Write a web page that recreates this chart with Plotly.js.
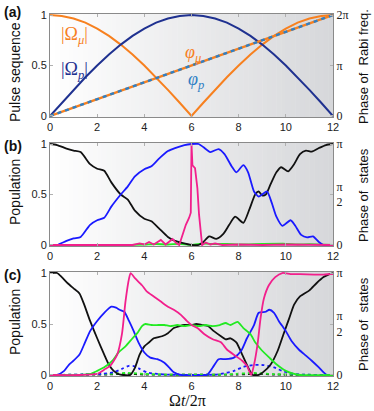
<!DOCTYPE html>
<html>
<head>
<meta charset="utf-8">
<script src="https://cdn.plot.ly/plotly-3.0.1.min.js"></script>
<style>
  html, body { margin: 0; padding: 0; background: #fff; }
  #plot { width: 374px; height: 411px; }
</style>
</head>
<body>
<div id="plot"></div>
<script>
// ---- panel (a): pulse amplitudes and phases ----
var tA = [0, 0.5, 1, 1.5, 2, 2.5, 3, 3.5, 4, 4.5, 5, 5.5, 6, 6.5, 7, 7.5, 8, 8.5, 9, 9.5, 10, 10.5, 11, 11.5, 12];
var omegaMu = [1, .991, .966, .924, .866, .793, .707, .609, .5, .383, .259, .131, 0, .131, .259, .383, .5, .609, .707, .793, .866, .924, .966, .991, 1];
var omegaP = [0, .131, .259, .383, .5, .609, .707, .793, .866, .924, .966, .991, 1, .991, .966, .924, .866, .793, .707, .609, .5, .383, .259, .131, 0];
var phaseT = [0, 12];
var phaseMu = [0, 2];   // in units of pi
var phaseP = [0, 2];

// ---- panel (b) ----
var bBlackT = [0, 0.3, 0.7, 1.0, 1.3, 1.7, 2.0, 2.3, 2.6, 3.0, 3.3, 3.6, 4.0, 4.3, 4.6, 5.0, 5.3, 5.6, 6.0, 6.3, 6.5, 6.75, 7.05, 7.35, 7.6, 7.85, 8.2, 8.45, 8.7, 8.85, 9.0, 9.15, 9.35, 9.6, 9.8, 10.1, 10.35, 10.6, 10.85, 11.1, 11.4, 11.7, 12];
var bBlack = [1, 0.99, 0.955, 0.935, 0.92, 0.8, 0.755, 0.735, 0.62, 0.5, 0.45, 0.34, 0.26, 0.235, 0.17, 0.08, 0.04, 0.02, 0, 0, 0.03, 0.085, 0.06, 0.11, 0.2, 0.28, 0.22, 0.35, 0.5, 0.53, 0.49, 0.5, 0.6, 0.72, 0.77, 0.73, 0.8, 0.9, 0.935, 0.925, 0.96, 0.99, 1];
var bBlueT = [0, 0.3, 0.7, 1.0, 1.3, 1.7, 2.0, 2.3, 2.6, 3.0, 3.3, 3.6, 4.0, 4.3, 4.6, 5.0, 5.3, 5.7, 6.0, 6.3, 6.5, 6.8, 7.15, 7.4, 7.7, 7.9, 8.2, 8.4, 8.65, 8.85, 9.0, 9.2, 9.4, 9.6, 9.85, 10.2, 10.4, 10.65, 10.9, 11.15, 11.4, 11.6, 12];
var bBlue = [0, 0, 0.04, 0.065, 0.08, 0.2, 0.245, 0.27, 0.38, 0.5, 0.58, 0.68, 0.75, 0.78, 0.85, 0.93, 0.96, 0.99, 1, 1, 0.97, 0.92, 0.95, 0.9, 0.78, 0.72, 0.79, 0.72, 0.53, 0.48, 0.5, 0.53, 0.42, 0.28, 0.19, 0.245, 0.19, 0.1, 0.075, 0.085, 0.03, 0, 0];
var bPhaseT = [0, 3.5, 3.8, 4.0, 4.2, 4.4, 4.7, 4.9, 5.2, 5.35, 5.48, 5.62, 5.76, 5.9, 5.97, 6.0, 6.04, 6.15, 6.25, 6.32, 6.4, 6.45, 6.6, 6.8, 7.0, 7.3, 8, 9, 10, 11, 12];
var bPhase = [0, 0, 0.015, 0.005, 0.03, 0.005, 0.05, 0.005, 0.06, 0.02, 0, 0.1, 0.2, 0.27, 0.32, 1.0, 0.79, 0.76, 0.56, 0.3, 0.075, 0, 0.025, 0.005, 0.015, 0, 0.005, 0, 0.005, 0, 0];
var bGreenT = [0, 3, 4, 4.5, 5, 5.5, 6, 6.5, 7, 7.5, 8, 9, 10, 10.5, 11, 12];
var bGreen = [0, 0, 0.005, 0.01, 0.005, 0.012, 0, 0.015, 0.008, 0.012, 0.005, 0.01, 0.012, 0.005, 0.008, 0];

// ---- panel (c) ----
var cBlackT = [0, 0.3, 0.5, 0.75, 1.0, 1.25, 1.45, 1.7, 2.0, 2.3, 2.5, 2.7, 2.9, 3.1, 3.4, 3.6, 3.8, 4.0, 4.2, 4.4, 4.75, 5.0, 5.25, 5.5, 5.7, 6.0, 6.2, 6.45, 6.7, 6.95, 7.25, 7.45, 7.65, 7.9, 8.15, 8.35, 8.5, 8.6, 8.85, 9.05, 9.35, 9.65, 9.9, 10.15, 10.35, 10.6, 11.0, 11.3, 11.6, 11.85, 12];
var cBlack = [1, 1, 0.96, 0.9, 0.85, 0.8, 0.69, 0.53, 0.36, 0.2, 0.1, 0.04, 0.01, 0, 0, 0.07, 0.2, 0.28, 0.32, 0.36, 0.38, 0.41, 0.46, 0.48, 0.49, 0.49, 0.5, 0.49, 0.48, 0.43, 0.38, 0.35, 0.36, 0.32, 0.2, 0.1, 0.03, 0, 0, 0.03, 0.1, 0.235, 0.4, 0.56, 0.69, 0.77, 0.83, 0.9, 0.96, 0.99, 1];
var cBlueT = [0, 0.3, 0.6, 0.8, 1.0, 1.25, 1.45, 1.7, 2.0, 2.3, 2.6, 2.8, 2.95, 3.15, 3.35, 3.55, 3.75, 4.0, 4.25, 4.55, 4.85, 5.05, 5.25, 5.55, 6.65, 6.9, 7.15, 7.45, 7.8, 8.1, 8.35, 8.65, 8.85, 9.15, 9.3, 9.5, 9.7, 10.0, 10.25, 10.55, 10.85, 11.1, 11.4, 11.6, 11.75, 12];
var cBlue = [0, 0, 0.04, 0.1, 0.14, 0.2, 0.3, 0.43, 0.53, 0.61, 0.67, 0.66, 0.64, 0.62, 0.53, 0.43, 0.32, 0.22, 0.17, 0.155, 0.12, 0.074, 0.026, 0, 0, 0.074, 0.155, 0.155, 0.17, 0.235, 0.36, 0.49, 0.61, 0.62, 0.64, 0.61, 0.53, 0.43, 0.33, 0.25, 0.19, 0.14, 0.074, 0.026, 0, 0];
var cPhaseT = [0, 1.3, 2.0, 2.35, 2.55, 2.85, 3.05, 3.2, 3.35, 3.42, 3.6, 3.9, 4.1, 4.4, 4.7, 5.0, 5.25, 5.55, 5.8, 6.0, 6.25, 6.55, 6.9, 7.25, 7.5, 7.85, 8.15, 8.35, 8.53, 8.65, 8.8, 8.93, 9.07, 9.28, 9.55, 9.85, 10.2, 10.6, 11.2, 11.6, 11.9, 12];
var cPhase = [0, 0, 0.01, 0.06, 0.09, 0.2, 0.4, 0.72, 0.945, 1.0, 0.95, 0.88, 0.82, 0.77, 0.72, 0.67, 0.64, 0.59, 0.53, 0.49, 0.46, 0.4, 0.35, 0.32, 0.25, 0.19, 0.14, 0.09, 0, 0.1, 0.3, 0.56, 0.75, 0.88, 0.96, 1.0, 0.99, 0.99, 0.985, 0.985, 0.99, 0.99];
var cGreenT = [0, 1.3, 1.7, 2.0, 2.3, 2.65, 2.9, 3.2, 3.5, 3.7, 3.9, 4.05, 4.3, 4.6, 4.85, 5.1, 5.4, 5.7, 6.0, 6.3, 6.6, 6.9, 7.2, 7.45, 7.65, 7.95, 8.2, 8.5, 8.7, 8.95, 9.3, 9.6, 10.0, 10.35, 10.6, 12];
var cGreen = [0, 0, 0.01, 0.04, 0.075, 0.14, 0.22, 0.28, 0.36, 0.41, 0.48, 0.5, 0.49, 0.49, 0.49, 0.48, 0.49, 0.48, 0.49, 0.48, 0.49, 0.48, 0.49, 0.51, 0.49, 0.52, 0.46, 0.4, 0.32, 0.25, 0.17, 0.105, 0.04, 0.01, 0, 0];
var cBlueDashT = [0, 1.5, 2.2, 2.7, 3.05, 3.35, 3.55, 3.8, 4.1, 4.55, 5.0, 7.0, 7.25, 7.8, 8.2, 8.6, 9.05, 9.5, 9.9, 10.35, 10.8, 12];
var cBlueDash = [0, 0.005, 0.012, 0.026, 0.06, 0.09, 0.088, 0.06, 0.026, 0.01, 0.003, 0.003, 0.01, 0.04, 0.08, 0.097, 0.097, 0.074, 0.035, 0.01, 0.003, 0];
var cGreenDashT = [0, 2.5, 3.3, 4, 5, 7.5, 8.6, 9.5, 12];
var cGreenDash = [0, 0.01, 0.02, 0.01, 0.003, 0.005, 0.02, 0.008, 0];
var cBlackDashT = [0, 2.5, 3.2, 4, 8, 8.7, 9.5, 12];
var cBlackDash = [0, 0.005, 0.012, 0.004, 0.004, 0.012, 0.004, 0];

var xTicks = [0, 2, 4, 6, 8, 10, 12];

// colours
var ORANGE = '#f7801f', NAVY = '#1f3190', SKY = '#2f7fc4';
var BLUE = '#1a1aff', PINK = '#f21f8c', GREEN = '#22ea22', BLACK = '#111111';

function line(x, y, color, xa, ya, opts) {
  opts = opts || {};
  return {
    x: x, y: y, xaxis: xa, yaxis: ya, type: 'scatter', mode: 'lines',
    line: { color: color, width: opts.width || 1.8, dash: opts.dash || 'solid',
            shape: opts.shape || 'spline', smoothing: 0.6 },
    hoverinfo: 'skip'
  };
}

var data = [
  // (a)
  line(tA, omegaMu, ORANGE, 'x', 'y', { width: 2, shape: 'linear' }),
  line(tA, omegaP, NAVY, 'x', 'y', { width: 2, shape: 'linear' }),
  line(phaseT, phaseMu, ORANGE, 'x', 'y2', { width: 2.4, shape: 'linear' }),
  line(phaseT, phaseP, SKY, 'x', 'y2', { width: 2.4, shape: 'linear', dash: '4px,4px' }),
  // (b)
  line(bGreenT, bGreen, GREEN, 'x2', 'y3'),
  line(bBlackT, bBlack, BLACK, 'x2', 'y3'),
  line(bBlueT, bBlue, BLUE, 'x2', 'y3'),
  line(bPhaseT, bPhase, PINK, 'x2', 'y4', { shape: 'linear' }),
  // (c)
  line(cBlackDashT, cBlackDash, BLACK, 'x3', 'y5', { dash: '3px,3px' }),
  line(cGreenDashT, cGreenDash, GREEN, 'x3', 'y5', { dash: '3px,3px' }),
  line(cBlueDashT, cBlueDash, BLUE, 'x3', 'y5', { dash: '3px,3px' }),
  line(cBlackT, cBlack, BLACK, 'x3', 'y5'),
  line(cBlueT, cBlue, BLUE, 'x3', 'y5'),
  line(cGreenT, cGreen, GREEN, 'x3', 'y5'),
  line(cPhaseT, cPhase, PINK, 'x3', 'y6')
];

var W = 374, H = 411;
var xDom = [50 / W, 333 / W];
var panels = [[14, 117], [143, 246], [272, 376]];
function yDom(p) { return [1 - p[1] / H, 1 - p[0] / H]; }

var tickFont = { family: 'Liberation Sans, Arial, sans-serif', size: 11, color: '#222' };
var serifFont = { family: 'Liberation Serif, Times New Roman, serif', size: 12, color: '#222' };

function xAxis(anchor) {
  return {
    domain: xDom, anchor: anchor, range: [0, 12], tickvals: xTicks,
    ticks: 'inside', ticklen: 3, tickcolor: '#b0b0b0', showline: true, mirror: 'ticks',
    linecolor: '#8a8a8a', linewidth: 1, showgrid: false, zeroline: false,
    tickfont: tickFont, fixedrange: true
  };
}
function yLeft(anchor, dom) {
  return {
    domain: dom, anchor: anchor, range: [-0.01, 1.01], tickvals: [0, 0.5, 1], ticktext: ['0', '0.5', '1'],
    ticks: 'inside', ticklen: 3, tickcolor: '#b0b0b0', showline: true,
    linecolor: '#8a8a8a', linewidth: 1, showgrid: false, zeroline: false,
    tickfont: tickFont, fixedrange: true
  };
}
function yRight(anchor, over, range, vals, text) {
  return {
    overlaying: over, anchor: anchor, side: 'right', range: range, tickvals: vals, ticktext: text,
    ticks: 'inside', ticklen: 3, tickcolor: '#b0b0b0', showline: true,
    linecolor: '#8a8a8a', linewidth: 1, showgrid: false, zeroline: false,
    tickfont: serifFont, fixedrange: true
  };
}

// grey gradient behind each panel
var shapes = [];
var N = 60;
['x', 'x2', 'x3'].forEach(function (xr, i) {
  var d = yDom(panels[i]);
  for (var k = 0; k < N; k++) {
    var f = (k + 0.5) / N;
    var r = Math.round(255 - f * 41), g = Math.round(255 - f * 40), b = Math.round(255 - f * 37);
    shapes.push({
      type: 'rect', layer: 'below', xref: xr, yref: 'paper',
      x0: 12 * k / N, x1: 12 * (k + 1) / N + 0.02, y0: d[0], y1: d[1],
      fillcolor: 'rgb(' + r + ',' + g + ',' + b + ')', line: { width: 0 }
    });
  }
});

function vtitle(text, x, yPix, size) {
  return { text: text, xref: 'paper', yref: 'paper', x: x / W, y: 1 - yPix / H,
           showarrow: false, textangle: -90, xanchor: 'center', yanchor: 'middle',
           font: { family: 'Liberation Sans, Arial, sans-serif', size: size, color: '#111' } };
}
function plabel(text, yPix) {
  return { text: '<b>' + text + '</b>', xref: 'paper', yref: 'paper', x: 2 / W, y: 1 - yPix / H,
           showarrow: false, xanchor: 'left', yanchor: 'middle',
           font: { family: 'Liberation Sans, Arial, sans-serif', size: 14, color: '#111' } };
}
function mathLabel(text, x, y, color) {
  return { text: text, xref: 'x', yref: 'y', x: x, y: y, showarrow: false,
           font: { family: 'Liberation Serif, Times New Roman, serif', size: 18, color: color } };
}

var annotations = [
  plabel('(a)', 12), plabel('(b)', 146), plabel('(c)', 275),
  vtitle('Pulse sequence', 15, 72, 14),
  vtitle('Population', 15, 192, 14),
  vtitle('Population', 15, 322, 14),
  vtitle('Phase of  Rabi freq.', 363, 67, 13),
  vtitle('Phase of  states', 363, 195, 13),
  vtitle('Phase of  states', 363, 324, 13),
  mathLabel('|Ω<sub><i>μ</i></sub>|', 1.05, 0.8, ORANGE),
  mathLabel('|Ω<sub><i>p</i></sub>|', 1.05, 0.45, NAVY),
  mathLabel('<i>φ</i><sub><i>μ</i></sub>', 6.05, 0.62, ORANGE),
  mathLabel('<i>φ</i><sub><i>p</i></sub>', 6.2, 0.35, SKY),
  { text: 'Ω<i>t</i>/2π', xref: 'paper', yref: 'paper', x: 187 / W, y: 1 - 400 / H,
    showarrow: false, xanchor: 'center', yanchor: 'middle',
    font: { family: 'Liberation Serif, Times New Roman, serif', size: 16, color: '#111' } }
];

var layout = {
  width: W, height: H,
  margin: { l: 0, r: 0, t: 0, b: 0 },
  paper_bgcolor: '#ffffff', plot_bgcolor: 'rgba(0,0,0,0)',
  showlegend: false, hovermode: false,
  xaxis: xAxis('y'), xaxis2: xAxis('y3'), xaxis3: xAxis('y5'),
  yaxis: yLeft('x', yDom(panels[0])),
  yaxis2: yRight('x', 'y', [-0.02, 2.02], [0, 1, 2], ['0', 'π', '2π']),
  yaxis3: yLeft('x2', yDom(panels[1])),
  yaxis4: yRight('x2', 'y3', [-0.01, 1.01], [0, 0.5, 1], ['0', 'π<br>2', 'π']),
  yaxis5: yLeft('x3', yDom(panels[2])),
  yaxis6: yRight('x3', 'y5', [-0.01, 1.01], [0, 0.5, 1], ['0', 'π<br>2', 'π']),
  shapes: shapes,
  annotations: annotations
};

Plotly.newPlot('plot', data, layout, { staticPlot: true, displayModeBar: false });
</script>
</body>
</html>
